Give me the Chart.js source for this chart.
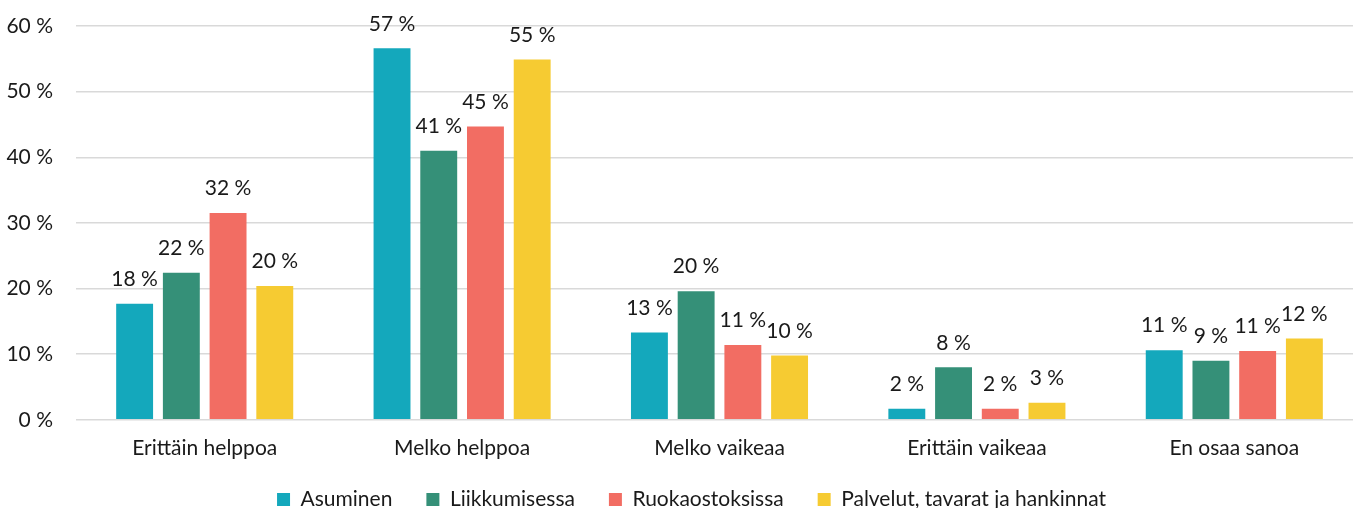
<!DOCTYPE html>
<html>
<head>
<meta charset="utf-8">
<script src="https://cdn.jsdelivr.net/npm/chart.js@4.4.1/dist/chart.umd.min.js"></script>
<style>
  html, body { margin: 0; padding: 0; background: #fff; overflow: hidden; }
  #wrap { width: 1363px; height: 534px; }
</style>
</head>
<body>
<div id="wrap"><canvas id="myChart" width="1363" height="534"></canvas></div>
<script>
const ctx = document.getElementById('myChart');

const categories = ['Erittäin helppoa', 'Melko helppoa', 'Melko vaikeaa', 'Erittäin vaikeaa', 'En osaa sanoa']
const seriesNames = ['Asuminen', 'Liikkumisessa', 'Ruokaostoksissa', 'Palvelut, tavarat ja hankinnat']

const asuminen = [17.7, 56.6, 13.3, 1.7, 10.6]
const liikkumisessa = [22.4, 41.0, 19.6, 8.0, 9.0]
const ruokaostoksissa = [31.5, 44.7, 11.4, 1.7, 10.5]
const palvelut = [20.4, 54.9, 9.8, 2.6, 12.4]

const yTicks = [0, 10, 20, 30, 40, 50, 60]

const colors = ['#14a8bc', '#359078', '#f26d63', '#f6cb32']

const fontFamily = 'Lato, "Open Sans", sans-serif'
const fontSize = 21
const textColor = '#1a1a1a'

// numbers over the bars, rounded to whole percents
const barLabels = {
  id: 'barLabels',
  afterDatasetsDraw(chart) {
    const c = chart.ctx
    c.save()
    c.font = fontSize + 'px ' + fontFamily
    c.fillStyle = textColor
    c.textAlign = 'center'
    c.textBaseline = 'bottom'
    chart.data.datasets.forEach((ds, i) => {
      chart.getDatasetMeta(i).data.forEach((bar, j) => {
        c.fillText(Math.round(ds.data[j]) + ' %', bar.x, bar.y - 14)
      })
    })
    c.restore()
  }
}

// pull the legend a bit closer to the axis labels and nudge it right
const legendNudge = {
  id: 'legendNudge',
  afterLayout(chart) {
    const l = chart.legend
    l.top -= 14; l.bottom -= 14
    l.left += 10; l.right += 10
  }
}

const seriesData = [asuminen, liikkumisessa, ruokaostoksissa, palvelut]

const mychart = new Chart(ctx, {
  type: 'bar',
  data: {
    labels: categories,
    datasets: seriesNames.map((name, i) => ({
      label: name,
      data: seriesData[i],
      backgroundColor: colors[i],
      borderWidth: 0,
      categoryPercentage: 0.726,
      barPercentage: 0.79
    }))
  },
  options: {
    responsive: false,
    animation: false,
    layout: { padding: 0 },
    plugins: {
      legend: {
        position: 'bottom',
        labels: {
          boxWidth: 13,
          boxHeight: 13,
          padding: 34,
          color: textColor,
          font: { family: fontFamily, size: fontSize }
        }
      },
      tooltip: { enabled: false }
    },
    scales: {
      x: {
        grid: { display: false },
        border: { display: false },
        ticks: {
          color: textColor,
          padding: 8,
          font: { family: fontFamily, size: fontSize }
        }
      },
      y: {
        min: 0,
        max: 60,
        afterBuildTicks: (axis) => { axis.ticks = yTicks.map(v => ({ value: v })) },
        afterFit: (axis) => { axis.width = 76; axis.paddingTop = 26 },
        grid: { color: '#d9d9d9', lineWidth: 1.5, drawTicks: false },
        border: { display: false },
        ticks: {
          color: textColor,
          padding: 23,
          font: { family: fontFamily, size: fontSize },
          callback: (v) => v + ' %'
        }
      }
    }
  },
  plugins: [barLabels, legendNudge]
});
</script>
</body>
</html>
